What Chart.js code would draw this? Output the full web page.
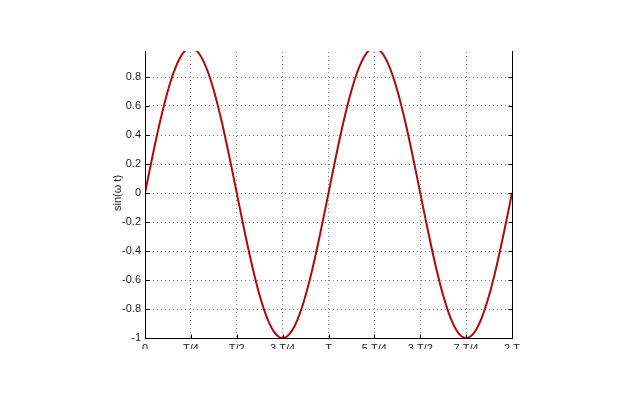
<!DOCTYPE html>
<html>
<head>
<meta charset="utf-8">
<script src="https://cdn.jsdelivr.net/npm/chart.js@4"></script>
<style>
  html, body { margin: 0; padding: 0; background: #fff; }
  #clip { position: absolute; left: 0; top: 51px; width: 640px; height: 298px; overflow: hidden; }
  #c { display: block; margin-top: -51px; }
</style>
</head>
<body>
<div id="clip"><canvas id="c" width="640" height="400"></canvas></div>
<script>
// Phase angle (degrees of omega*t), sampled every 15 degrees over two periods
const angleDeg = [0,15,30,45,60,75,90,105,120,135,150,165,180,195,210,225,240,255,270,285,300,315,330,345,
                  360,375,390,405,420,435,450,465,480,495,510,525,540,555,570,585,600,615,630,645,660,675,690,705,720];
// sin(omega t) values
const sinValues = [0,0.259,0.5,0.707,0.866,0.966,1,0.966,0.866,0.707,0.5,0.259,0,-0.259,-0.5,-0.707,-0.866,-0.966,-1,-0.966,-0.866,-0.707,-0.5,-0.259,
                   0,0.259,0.5,0.707,0.866,0.966,1,0.966,0.866,0.707,0.5,0.259,0,-0.259,-0.5,-0.707,-0.866,-0.966,-1,-0.966,-0.866,-0.707,-0.5,-0.259,0];
const xTickValues = [0,90,180,270,360,450,540,630,720];
const xTickLabels = ['0','T/4','T/2','3 T/4','T','5 T/4','3 T/2','7 T/4','2 T'];
const yTickValues = [-1,-0.8,-0.6,-0.4,-0.2,0,0.2,0.4,0.6,0.8,1];

const points = angleDeg.map((a, i) => ({ x: a, y: sinValues[i] }));

const boxPlugin = {
  id: 'matlabBox',
  afterDraw(chart) {
    const { ctx, chartArea: a, scales } = chart;
    ctx.save();
    ctx.strokeStyle = '#000';
    ctx.lineWidth = 1;
    const L = Math.round(a.left) + 0.5, R = Math.round(a.right) + 0.5;
    const T = Math.round(a.top) + 0.5, B = Math.round(a.bottom) + 0.5;
    ctx.beginPath();
    ctx.moveTo(L, T); ctx.lineTo(L, B); ctx.lineTo(R, B); ctx.lineTo(R, T);
    const tl = 4;
    yTickValues.forEach(v => {
      const y = Math.round(scales.y.getPixelForValue(v)) + 0.5;
      ctx.moveTo(L, y); ctx.lineTo(L + tl, y);
      ctx.moveTo(R, y); ctx.lineTo(R - tl, y);
    });
    xTickValues.forEach(v => {
      const x = Math.round(scales.x.getPixelForValue(v)) + 0.5;
      ctx.moveTo(x, B); ctx.lineTo(x, B - tl);
    });
    ctx.stroke();
    ctx.restore();
  }
};

const gridStyle = {
  color: 'rgba(0,0,0,0.5)',
  lineWidth: 1,
  drawTicks: false
};

new Chart(document.getElementById('c'), {
  type: 'line',
  data: {
    datasets: [{
      data: points,
      borderColor: 'rgb(175,10,10)',
      borderWidth: 2,
      pointRadius: 0,
      fill: false,
      cubicInterpolationMode: 'monotone'
    }]
  },
  options: {
    responsive: false,
    animation: false,
    events: [],
    layout: { padding: { left: 107, right: 128, top: 48, bottom: 32 } },
    plugins: { legend: { display: false }, tooltip: { enabled: false } },
    scales: {
      x: {
        type: 'linear',
        min: 0, max: 720,
        afterBuildTicks: s => { s.ticks = xTickValues.map(v => ({ value: v })); },
        afterFit: s => { s.height = 30; },
        border: { display: false, dash: [1, 3] },
        grid: gridStyle,
        ticks: {
          padding: 4,
          color: '#222',
          font: { family: 'Liberation Sans', size: 11 },
          maxRotation: 0,
          autoSkip: false,
          callback: (v) => { const i = xTickValues.indexOf(v); return i >= 0 ? xTickLabels[i] : ''; }
        }
      },
      y: {
        min: -1, max: 1,
        afterBuildTicks: s => { s.ticks = yTickValues.map(v => ({ value: v })); },
        afterFit: s => { s.width = 38; },
        border: { display: false, dash: [1, 3] },
        grid: gridStyle,
        title: {
          display: true,
          text: 'sin(ω t)',
          color: '#222',
          font: { family: 'Liberation Sans', size: 11 },
          padding: { top: 4, bottom: 0 }
        },
        ticks: {
          padding: 4,
          color: '#222',
          font: { family: 'Liberation Sans', size: 11 },
          autoSkip: false,
          callback: v => String(Math.round(v * 10) / 10)
        }
      }
    }
  },
  plugins: [boxPlugin]
});
</script>
</body>
</html>
